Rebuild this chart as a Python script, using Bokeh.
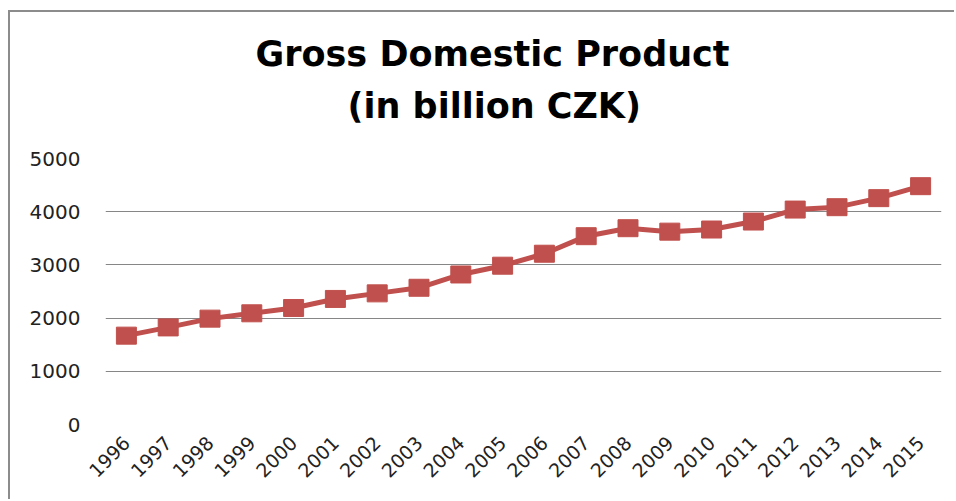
from bokeh.plotting import figure
from bokeh.models import Range1d, FixedTicker, Title
from bokeh.embed import file_html
from bokeh.resources import INLINE
import math

years = [str(y) for y in range(1996, 2016)]
gdp = [1670, 1825, 1990, 2090, 2190, 2360, 2465, 2570, 2820, 2985,
       3210, 3540, 3690, 3625, 3665, 3815, 4040, 4085, 4255, 4480]
y_ticks = [0, 1000, 2000, 3000, 4000, 5000]
title_line1 = "Gross Domestic Product"
title_line2 = "(in billion CZK)"

RED = "#C0504D"
GRID = "#868686"

p = figure(x_range=years, y_range=Range1d(0, 5000), width=946, height=489,
           output_backend="svg", toolbar_location=None,
           min_border_left=95, min_border_right=15, min_border_top=146, min_border_bottom=77,
           styles={"border-left": "2px solid #8c8c8c", "border-top": "2px solid #8c8c8c",
                   "margin-left": "8px", "margin-top": "10px"})
p.outline_line_color = None
p.background_fill_color = "white"
p.border_fill_color = "white"

p.add_layout(Title(text=title_line2, align="left", text_font="DejaVu Sans",
                   text_font_size="35px", text_font_style="bold", text_color="black",
                   offset=242, standoff=66), "above")
p.add_layout(Title(text=title_line1, align="left", text_font="DejaVu Sans",
                   text_font_size="35px", text_font_style="bold", text_color="black",
                   offset=150, standoff=-46), "above")

p.line(years, gdp, line_color=RED, line_width=5)
p.rect(years, gdp, width=20, height=17, width_units="screen", height_units="screen",
       fill_color=RED, line_color=RED)

p.yaxis.ticker = FixedTicker(ticks=y_ticks)
p.yaxis.axis_line_color = None
p.yaxis.major_tick_line_color = None
p.yaxis.minor_tick_line_color = None
p.yaxis.major_tick_out = 0
p.yaxis.major_label_standoff = 25
p.yaxis.major_label_text_font = "DejaVu Sans"
p.yaxis.major_label_text_font_size = "20px"
p.yaxis.major_label_text_color = "#222222"

p.xaxis.axis_line_color = None
p.xaxis.major_tick_line_color = None
p.xaxis.major_tick_out = 0
p.xaxis.major_label_orientation = math.pi / 4
p.xaxis.major_label_standoff = 15
p.xaxis.major_label_text_font = "DejaVu Sans"
p.xaxis.major_label_text_font_size = "19px"
p.xaxis.major_label_text_color = "#222222"

p.xgrid.grid_line_color = None
p.ygrid.grid_line_color = GRID
p.ygrid.grid_line_width = 1

open("out.html", "w").write(file_html(p, INLINE))
